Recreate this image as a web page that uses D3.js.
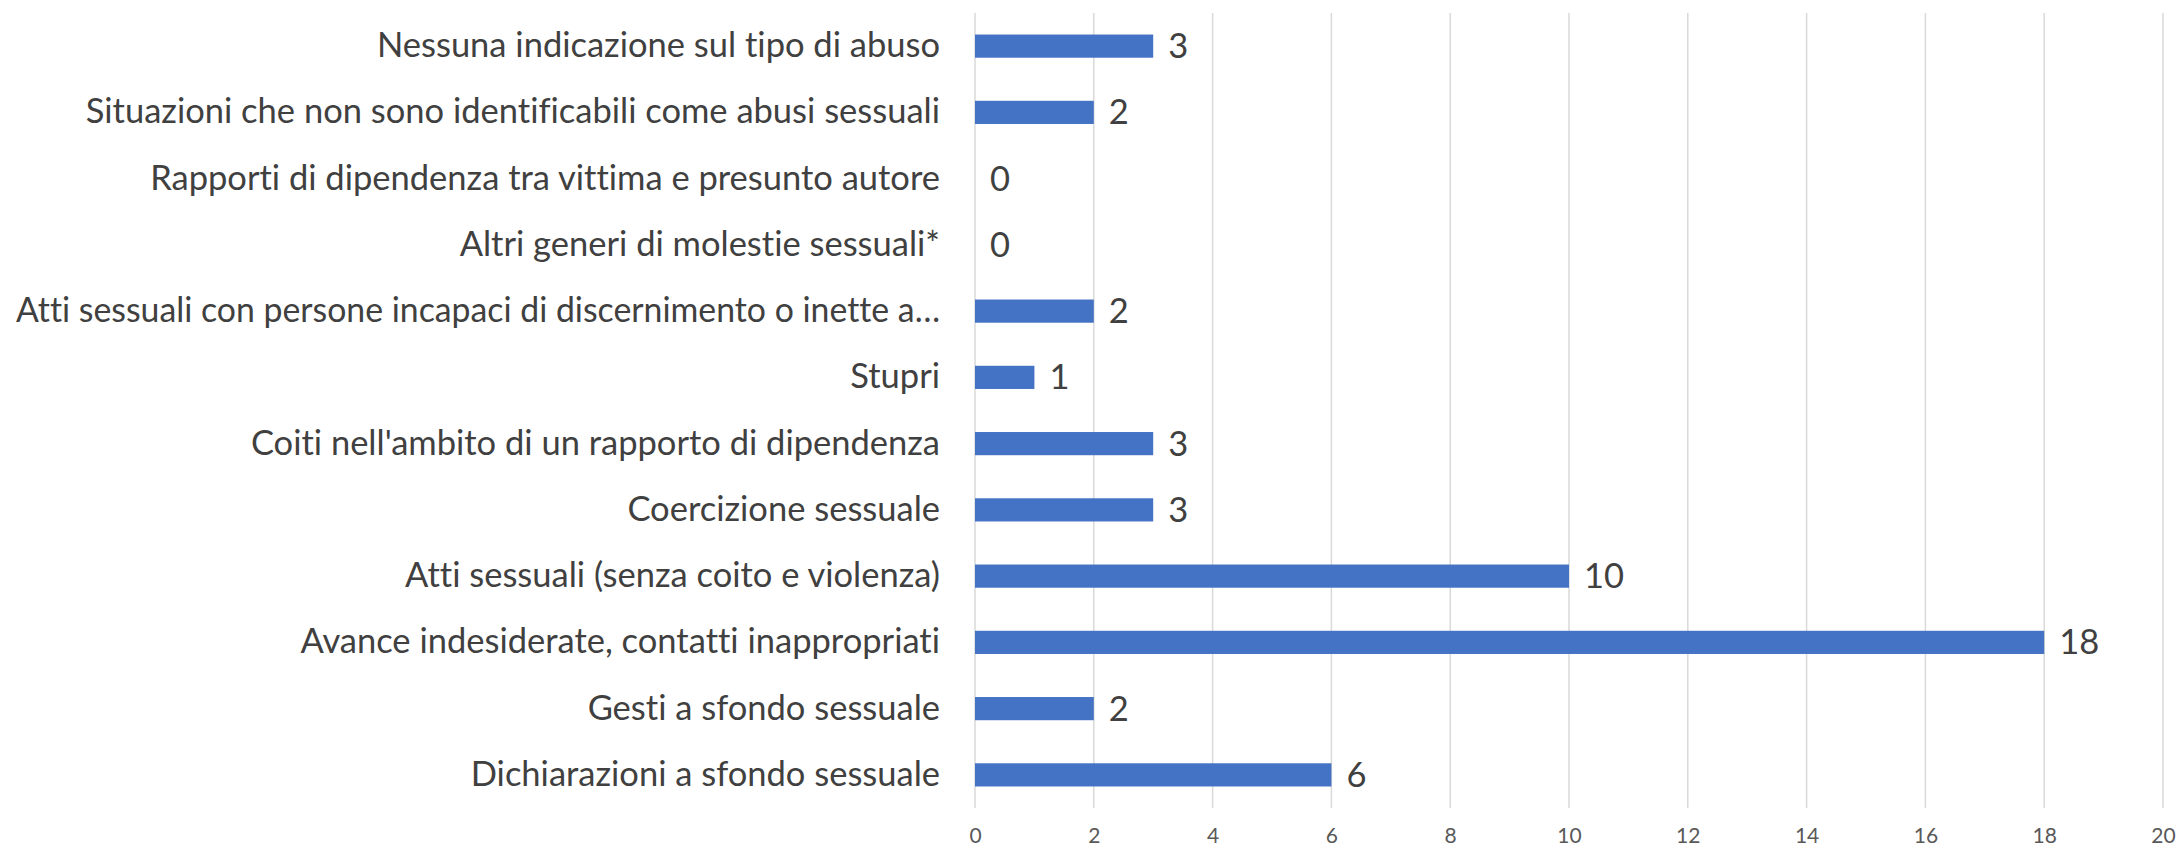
<!DOCTYPE html>
<html>
<head>
<meta charset="utf-8">
<script src="https://cdn.jsdelivr.net/npm/d3@7"></script>
<style>
  body { margin: 0; background: #fff; }
  svg { display: block; }
  text { font-variant-ligatures: none; font-feature-settings: "liga" 0; }
</style>
</head>
<body>
<svg width="2180" height="851"></svg>
<script>
// categories top to bottom
var categories = [
    "Nessuna indicazione sul tipo di abuso",
    "Situazioni che non sono identificabili come abusi sessuali",
    "Rapporti di dipendenza tra vittima e presunto autore",
    "Altri generi di molestie sessuali*",
    "Atti sessuali con persone incapaci di discernimento o inette a…",
    "Stupri",
    "Coiti nell'ambito di un rapporto di dipendenza",
    "Coercizione sessuale",
    "Atti sessuali (senza coito e violenza)",
    "Avance indesiderate, contatti inappropriati",
    "Gesti a sfondo sessuale",
    "Dichiarazioni a sfondo sessuale"
];
var values = [3, 2, 0, 0, 2, 1, 3, 3, 10, 18, 2, 6];
var xTicks = [0, 2, 4, 6, 8, 10, 12, 14, 16, 18, 20];

var svg = d3.select("svg");
var font = "Lato, 'Open Sans', sans-serif";

var x = d3.scaleLinear()
    .domain([0, 20])
    .range([975, 2163]);

var y = d3.scaleBand()
    .domain(categories)
    .range([13, 808])
    .paddingInner(0.65)
    .paddingOuter(0.325);

// gridlines
svg.selectAll(".grid")
    .data(xTicks)
    .enter().append("line")
    .attr("class", "grid")
    .attr("x1", function(d) { return x(d); })
    .attr("x2", function(d) { return x(d); })
    .attr("y1", 13)
    .attr("y2", 808)
    .style("stroke", "#d9d9d9")
    .style("stroke-width", 1.5);

// x axis tick labels
var xAxis = d3.axisBottom(x).tickValues(xTicks).tickSize(0).tickPadding(0);
var gx = svg.append("g")
    .attr("transform", "translate(0,828)")
    .call(xAxis);
gx.select(".domain").remove();
gx.selectAll("text")
    .style("font-family", font)
    .style("font-size", "21px")
    .style("fill", "#595959");

// category labels
var yAxis = d3.axisLeft(y).tickSize(0).tickPadding(0);
var gy = svg.append("g")
    .attr("transform", "translate(940,0)")
    .call(yAxis);
gy.select(".domain").remove();
gy.selectAll("text")
    .style("font-family", font)
    .style("font-size", "34.5px")
    .style("fill", "#404040")
    .each(function() {
        // squeeze labels that would run off the left edge
        var w = this.getComputedTextLength();
        if (w > 924) {
            d3.select(this)
                .attr("textLength", 924)
                .attr("lengthAdjust", "spacingAndGlyphs");
        }
    });

// bars
svg.selectAll(".bar")
    .data(values)
    .enter().append("rect")
    .attr("class", "bar")
    .attr("x", x(0))
    .attr("y", function(d, i) { return y(categories[i]); })
    .attr("width", function(d) { return x(d) - x(0); })
    .attr("height", y.bandwidth())
    .style("fill", "#4472c4");

// value labels
svg.selectAll(".val")
    .data(values)
    .enter().append("text")
    .attr("class", "val")
    .attr("x", function(d) { return x(d) + 15; })
    .attr("y", function(d, i) { return y(categories[i]) + y.bandwidth() / 2; })
    .attr("dy", "0.35em")
    .text(function(d) { return d; })
    .style("font-family", font)
    .style("font-size", "34.5px")
    .style("fill", "#404040");
</script>
</body>
</html>
